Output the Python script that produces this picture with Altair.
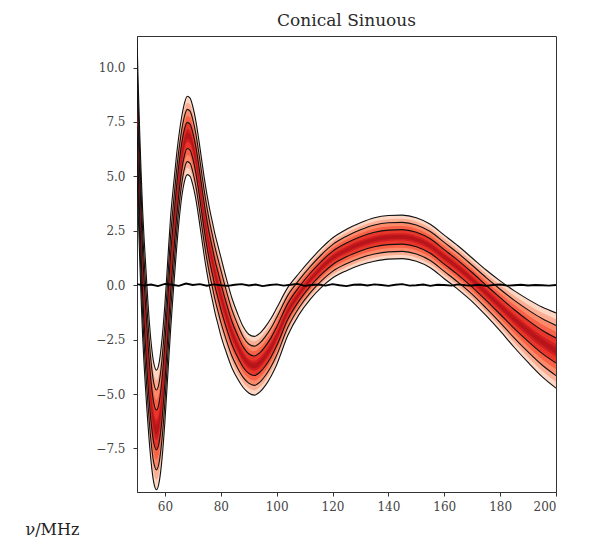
import altair as alt
import pandas as pd
import numpy as np

# frequency grid (MHz) and median residual (K)
X = [50, 50.5, 51, 51.5, 52, 52.5, 53, 53.5, 54, 55, 56, 57, 58, 59, 60, 61, 62, 63, 64, 65,
     66, 67, 68, 69, 70, 71, 72, 73, 74, 75, 76, 77, 78, 79, 80, 82, 84, 86, 88, 90,
     92, 94, 96, 98, 100, 104, 108, 112, 116, 120, 125, 130, 135, 140, 145, 150, 155, 160, 165, 170,
     175, 180, 185, 190, 195, 200]
MEDIAN = [8.3, 6.0, 4.0, 2.2, 0.6, -0.66, -1.74, -2.77, -3.73, -5.31, -6.32, -6.65, -6.25, -5.17, -3.55, -1.53, 0.49, 2.10, 3.59, 4.88,
          5.89, 6.57, 6.88, 6.8, 6.4, 5.8, 5.0, 4.1, 3.2, 2.4, 1.7, 1.1, 0.5, 0.0, -0.5, -1.4, -2.2, -2.8, -3.3, -3.6,
          -3.7, -3.55, -3.25, -2.85, -2.35, -1.2, -0.4, 0.25, 0.8, 1.25, 1.62, 1.9, 2.1, 2.2, 2.22, 2.1, 1.8, 1.3, 0.8, 0.25,
          -0.35, -0.95, -1.55, -2.1, -2.6, -3.0]
# half width of the outer (3 sigma) contour
HALF3 = [3.0, 2.95, 2.9, 2.9, 2.9, 2.9, 2.9, 2.85, 2.8, 2.75, 2.75, 2.75, 2.75, 2.75, 2.7, 2.65, 2.6, 2.4, 2.2, 2.0,
         1.85, 1.8, 1.8, 1.8, 1.8, 1.8, 1.8, 1.8, 1.8, 1.8, 1.8, 1.8, 1.8, 1.8, 1.8, 1.7, 1.6, 1.5, 1.4, 1.35,
         1.35, 1.35, 1.35, 1.33, 1.3, 1.1, 0.95, 0.9, 0.9, 0.92, 0.95, 0.97, 1.0, 1.0, 1.0, 1.0, 1.0, 1.0, 1.0, 1.0,
         1.05, 1.15, 1.3, 1.45, 1.6, 1.73]

# noisy black reference line near zero
NOISE = [0.05, -0.02, 0.03, -0.04, 0.06, 0.02, -0.03, 0.08, 0.01, 0.05, -0.02, 0.04, 0.0, -0.03, 0.02,
         0.05, -0.01, 0.03, -0.04, 0.01, 0.04, -0.02, 0.02, 0.06, -0.03, 0.01, 0.03, -0.02, 0.05, 0.0,
         -0.04, 0.02, 0.03, -0.01, 0.04, 0.01, -0.03, 0.02, 0.05, -0.02, 0.0, 0.03, -0.03, 0.02, 0.01,
         -0.02, 0.04, 0.0, -0.01, 0.02, -0.03, 0.01, 0.03, -0.02, 0.0, 0.02, -0.01, 0.01, 0.0, -0.02, 0.01]
NOISE_X = list(np.linspace(50, 200, len(NOISE)))

FILL_LEVELS = [3.0, 2.5, 2.0, 1.5, 1.0, 0.5, 0.25]
FILL_COLORS = ["#fdd6c4", "#fcae94", "#fc8a6a", "#f96246", "#e8372a", "#cf1f20", "#b8151a"]
LINE_LEVELS = [3.0, 2.0, 1.0]

x = np.array(X)
m = np.array(MEDIAN)
s = np.array(HALF3) / 3.0

xs = alt.X("x:Q", scale=alt.Scale(domain=[50, 200], nice=False, zero=False),
           axis=alt.Axis(values=[60, 80, 100, 120, 140, 160, 180, 200], format="d",
                         title="ν/MHz", titleX=-112, titleY=42, titleAlign="left",
                         titleBaseline="alphabetic", titleAnchor="start", labelPadding=5))
ys = alt.Y("lo:Q", scale=alt.Scale(domain=[-9.5, 11.45], nice=False, zero=False),
           axis=alt.Axis(values=[-7.5, -5, -2.5, 0, 2.5, 5, 7.5, 10], labelPadding=8,
                         labelExpr="replace(format(datum.value, '.1f'), '-', '−')", title=None))

layers = []
for k, col in zip(FILL_LEVELS, FILL_COLORS):
    d = pd.DataFrame({"x": x, "lo": m - k * s, "hi": m + k * s})
    layers.append(alt.Chart(d).mark_area(color=col, interpolate="monotone", clip=True)
                  .encode(x=xs, y=ys, y2="hi:Q"))

rows = []
for k in LINE_LEVELS:
    for sign in (1, -1):
        rows.append(pd.DataFrame({"x": x, "lo": m + sign * k * s, "id": f"{sign}{k}"}))
lines = pd.concat(rows)
layers.append(alt.Chart(lines).mark_line(color="#111", strokeWidth=1.1, interpolate="monotone", clip=True)
              .encode(x=xs, y=ys, detail="id:N"))

nd = pd.DataFrame({"x": NOISE_X, "lo": NOISE})
layers.append(alt.Chart(nd).mark_line(color="black", strokeWidth=1.9, clip=True).encode(x=xs, y=ys))

chart = (alt.layer(*layers)
         .properties(width=419, height=456, padding={"left": 17, "top": 4, "right": 5, "bottom": 5},
                     title=alt.TitleParams("Conical Sinuous", font="DejaVu Serif", fontSize=17,
                                           fontWeight="normal", color="#2a2a2a", offset=6))
         .configure_title(font="DejaVu Serif")
         .configure_view(stroke="#333", strokeWidth=1)
         .configure_axis(grid=False, domainColor="#333", tickColor="#333", tickSize=4,
                         labelFont="DejaVu Serif", labelFontSize=12, labelColor="#444",
                         titleFont="DejaVu Serif", titleFontSize=16, titleFontWeight="normal",
                         titleColor="#222"))

chart.save("out.html", embed_options={"renderer": "svg", "actions": False})
